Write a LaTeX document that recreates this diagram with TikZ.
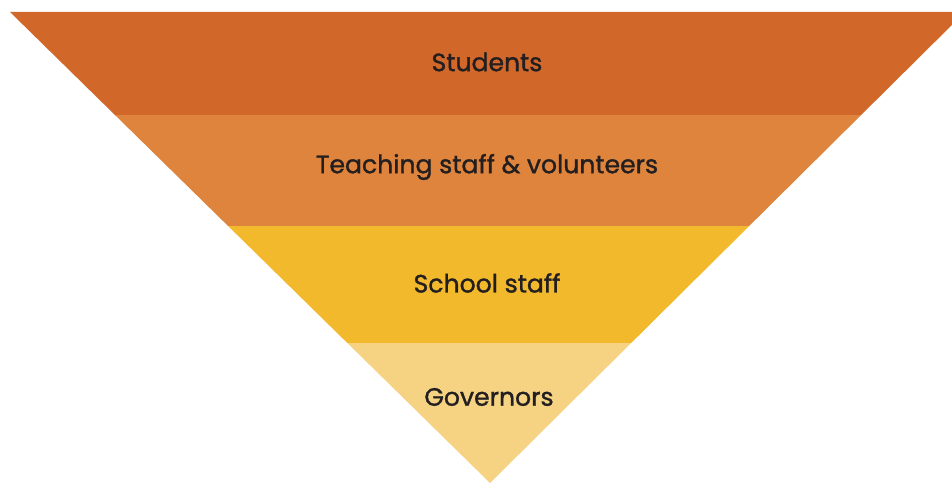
\documentclass[tikz,border=0pt]{standalone}
\usepackage{fontspec}
\newfontfamily\bandfont{Poppins}[FakeBold=1.3]
\usepackage{tikz}
\usepackage{xcolor}

\definecolor{studentsorange}{HTML}{D2672A}
\definecolor{teachorange}{HTML}{DE843C}
\definecolor{staffyellow}{HTML}{F2B92D}
\definecolor{govyellow}{HTML}{F6D383}
\definecolor{labelink}{HTML}{231F20}

\begin{document}
\begin{tikzpicture}[x=1bp, y=-1bp,
  band/.style={font=\bandfont\fontsize{25.2}{30}\selectfont, text=labelink}]
  \useasboundingbox (0,0) rectangle (952,483);

  % Corners of the funnel
  \coordinate (TL) at (10, 12);
  \coordinate (TR) at (965, 12);
  \coordinate (Apex) at (490, 483);

  % Bands (clipped to the triangle)
  \begin{scope}
    \clip (0,0) rectangle (952,483);
    \clip (TL) -- (TR) -- (Apex) -- cycle;
    \fill[studentsorange] (0, 10) rectangle (970, 115);
    \fill[teachorange] (0, 115) rectangle (970, 226);
    \fill[staffyellow] (0, 226) rectangle (970, 343);
    \fill[govyellow] (0, 343) rectangle (970, 485);
  \end{scope}

  % Labels
  \node[band] (students) at (487, 62) {Students};
  \node[band] (teaching) at (487, 167) {Teaching staff \& volunteers};
  \node[band] (school) at (487, 283) {School staff};
  \node[band] (governors) at (489, 397) {Governors};
\end{tikzpicture}
\end{document}
